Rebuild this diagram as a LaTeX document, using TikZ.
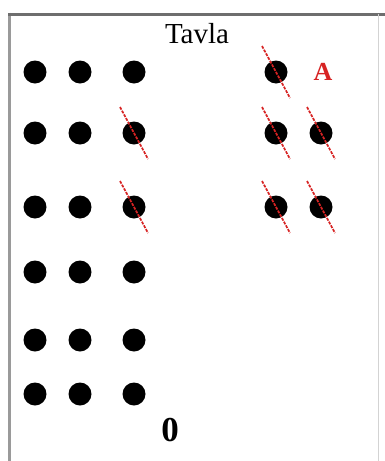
\documentclass[tikz,border=0pt]{standalone}
\usepackage{fontspec}
\setmainfont{Liberation Serif}
\definecolor{slashred}{RGB}{215,35,35}
\definecolor{framegray}{RGB}{110,110,110}

\begin{document}
\begin{tikzpicture}[
        x=1pt, y=-1pt,
        checker/.style={circle, fill=black, minimum size=23pt, inner sep=0pt},
        crossout/.style={slashred, line width=1.7pt, dash pattern=on 3pt off 1.2pt},
        boardlabel/.style={inner sep=0pt}
    ]
        \useasboundingbox (0,0) rectangle (385,461);
        % board frame
        \draw[framegray!70, line width=3pt] (9.5,12.5) -- (9.5,461);
        \draw[framegray, line width=3pt] (8,14) -- (385,14);
        \draw[framegray!30, line width=1pt] (378,14) -- (378,461);

        \node[boardlabel, font=\fontsize{29}{32}\selectfont]
            (title) at (197,34) {Tavla};

        % left stacks
        \foreach \c/\x in {1/35, 2/80, 3/134}
            \foreach \r/\y in {1/72, 2/133, 3/207, 4/272, 5/340, 6/394}
                \node[checker] (l-\c-\r) at (\x,\y) {};

        % right stacks
        \node[checker] (r-1-1) at (276,72) {};
        \node[checker] (r-1-2) at (276,133) {};
        \node[checker] (r-2-2) at (321,133) {};
        \node[checker] (r-1-3) at (276,207) {};
        \node[checker] (r-2-3) at (321,207) {};

        \node[boardlabel, text=slashred, font=\fontsize{26}{28}\selectfont\bfseries]
            (labelA) at (323,72) {A};
        \node[boardlabel, font=\fontsize{35}{38}\selectfont\bfseries]
            (labelO) at (170,430) {0};

        % removed checkers
        \foreach \n in {l-3-2, l-3-3, r-1-1, r-1-2, r-2-2, r-1-3, r-2-3}
            \draw[crossout] ([shift={(-14,-26)}]\n.center)
                -- ([shift={(14,26)}]\n.center);
    \end{tikzpicture}
\end{document}
